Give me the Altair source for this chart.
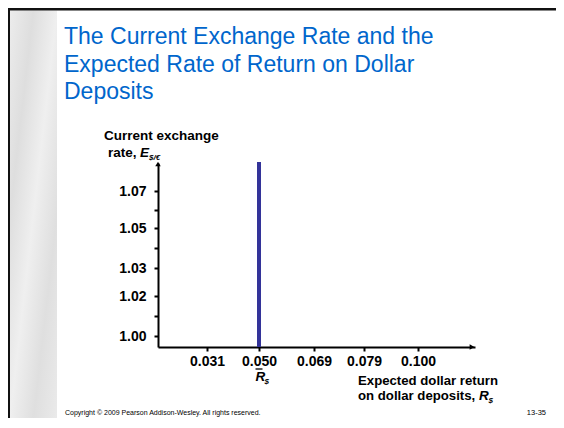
import altair as alt
import pandas as pd

# ---------------- data ----------------
title_lines = ["The Current Exchange Rate and the",
               "Expected Rate of Return on Dollar",
               "Deposits"]
x_ticks = [0.031, 0.050, 0.069, 0.079, 0.100]
y_labeled = [1.00, 1.02, 1.03, 1.05, 1.07]
y_minor = [1.01, 1.04, 1.06]
r_dollar = [0.050]
y_title_lines = ["Current exchange", "rate,"]
x_title_lines = ["Expected dollar return", "on dollar deposits,"]
footer_left = "Copyright \u00a9 2009 Pearson Addison-Wesley. All rights reserved."
footer_right = "13-35"

# ---------------- layout ----------------
FONT = "Liberation Sans, Arial, sans-serif"
OX, OY = 158, 163          # page position of plot origin
W, H = 317, 184            # plot area
CW, CH = 548, 410          # canvas


def px(x):
    return x - OX


def py(y):
    return y - OY


x_domain = [0.012] + x_ticks + [0.120]
x_range = [0, 49, 101, 156, 206, 260, W]
y_all = sorted(y_labeled + y_minor)
y_domain = [0.994] + y_labeled + [1.084]
y_range = [H, 173, 133, 105, 65, 28, 0]

one = pd.DataFrame({"k": [0]})

axis_common = dict(title=None, grid=False, domainColor="black", domainWidth=2,
                   tickColor="black", tickWidth=2, tickSize=4,
                   labelFont=FONT, labelFontSize=14, labelFontWeight="bold",
                   labelColor="black", labelOverlap=False, labelFlush=False)

minor_test = " || ".join(f"abs(datum.value - {v}) < 1e-6" for v in y_minor)

x_scale = alt.Scale(domain=x_domain, range=x_range, nice=False, zero=False)
y_scale = alt.Scale(domain=y_domain, range=y_range, nice=False, zero=False)


def text(s, x, y, size, weight="normal", style="normal", color="black", align="left"):
    return alt.Chart(one).mark_text(
        text=s, font=FONT, fontSize=size, fontWeight=weight, fontStyle=style,
        color=color, align=align, baseline="alphabetic"
    ).encode(x=alt.value(px(x)), y=alt.value(py(y)))


def box(x1, x2, y1, y2, color):
    return alt.Chart(one).mark_rect(color=color).encode(
        x=alt.value(px(x1)), x2=alt.value(px(x2)),
        y=alt.value(py(y1)), y2=alt.value(py(y2)))


marble = alt.Chart(one).mark_rect(
    color=alt.Gradient(
        gradient="linear", x1=0, y1=0, x2=1, y2=1,
        stops=[alt.GradientStop(color="#ececec", offset=0),
               alt.GradientStop(color="#dedede", offset=0.25),
               alt.GradientStop(color="#efefef", offset=0.5),
               alt.GradientStop(color="#dfdfdf", offset=0.75),
               alt.GradientStop(color="#eaeaea", offset=1)])
).encode(x=alt.value(px(10)), x2=alt.value(px(57)),
         y=alt.value(py(10.5)), y2=alt.value(py(8 + CH)))

top_border = box(8, 8 + CW, 8, 10.5, "#111111")
left_border = box(8, 10, 8, 8 + CH, "#111111")

title_layers = [text(s, 64, b, 23, color="#0066cc")
                for s, b in zip(title_lines, [44, 71.5, 99])]

# expected dollar return line
rline = alt.Chart(pd.DataFrame({"R": r_dollar})).mark_rule(
    color="#333399", strokeWidth=4
).encode(
    x=alt.X("R:Q", scale=x_scale,
            axis=alt.Axis(values=x_ticks, format=".3f", labelPadding=3, **axis_common)),
    y=alt.value(py(162)), y2=alt.value(H))

yaxis_layer = alt.Chart(pd.DataFrame({"v": y_all})).mark_point(opacity=0).encode(
    y=alt.Y("v:Q", scale=y_scale,
            axis=alt.Axis(values=y_all, labelPadding=8,
                          labelExpr=f"({minor_test}) ? '' : format(datum.value, '.2f')",
                          **axis_common)),
    x=alt.value(0))

arrow_up = alt.Chart(one).mark_point(shape="triangle-up", size=30, filled=True,
                                     color="black", opacity=1).encode(
    x=alt.value(0), y=alt.value(1))
arrow_right = alt.Chart(one).mark_point(shape="triangle-right", size=30, filled=True,
                                        color="black", opacity=1).encode(
    x=alt.value(W - 3), y=alt.value(H))

# axis titles
ytitle = [
    text(y_title_lines[0], 104, 140, 13.5, "bold"),
    text(y_title_lines[1], 108, 157, 13.5, "bold"),
    text("E", 140, 157, 13.5, "bold", "italic"),
    text("$/\u20ac", 149, 159.5, 8, "bold", "italic"),
]
xtitle = [
    text(x_title_lines[0], 358, 385, 13.2, "bold"),
    text(x_title_lines[1], 358, 400, 13.2, "bold"),
    text("R", 479, 400, 13.5, "bold", "italic"),
    text("$", 488.5, 402.5, 8, "bold", "italic"),
]
rbar = [
    text("R", 255.5, 381, 13.5, "bold", "italic"),
    text("$", 264.5, 383.5, 8, "bold", "italic"),
    alt.Chart(one).mark_rule(color="black", strokeWidth=1.3).encode(
        x=alt.value(px(255.5)), x2=alt.value(px(262.5)),
        y=alt.value(py(369)), y2=alt.value(py(369))),
]
footer = [
    text(footer_left, 65, 415, 7),
    text(footer_right, 546, 415, 7.5, align="right"),
]

chart = alt.layer(
    marble, top_border, left_border, *title_layers,
    yaxis_layer, rline, arrow_up, arrow_right,
    *ytitle, *xtitle, *rbar, *footer
).properties(
    width=W, height=H,
    autosize=alt.AutoSizeParams(type="none"),
    padding={"left": OX - 8, "top": OY - 8, "right": CW - (OX - 8) - W,
             "bottom": CH - (OY - 8) - H},
    background="white",
).configure_view(stroke=None)

chart.save("out.html", embed_options={"renderer": "svg", "actions": False})
